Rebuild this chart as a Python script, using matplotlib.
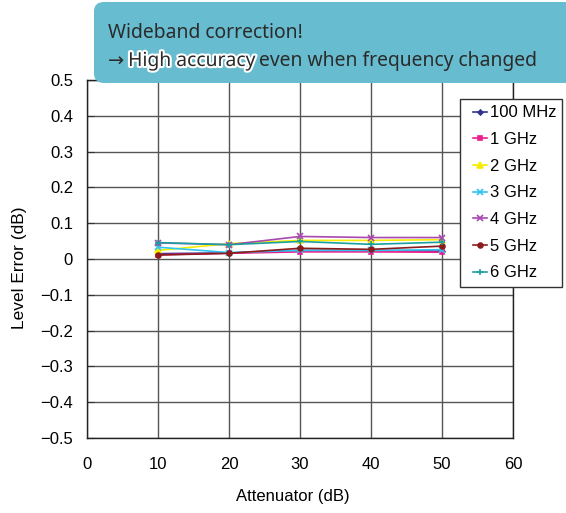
import matplotlib.pyplot as plt
import matplotlib.patheffects as pe
from matplotlib.patches import FancyBboxPatch
from matplotlib.legend_handler import HandlerLine2D

# Data
attenuator = [10, 20, 30, 40, 50]
freq_labels = ['100 MHz', '1 GHz', '2 GHz', '3 GHz', '4 GHz', '5 GHz', '6 GHz']
err_100mhz = [0.015, 0.017, 0.024, 0.024, 0.022]
err_1ghz = [0.012, 0.016, 0.020, 0.020, 0.019]
err_2ghz = [0.024, 0.043, 0.052, 0.052, 0.054]
err_3ghz = [0.033, 0.018, 0.024, 0.024, 0.026]
err_4ghz = [0.045, 0.040, 0.063, 0.060, 0.060]
err_5ghz = [0.011, 0.016, 0.030, 0.027, 0.036]
err_6ghz = [0.046, 0.040, 0.049, 0.041, 0.047]
y_ticks = [0.5, 0.4, 0.3, 0.2, 0.1, 0, -0.1, -0.2, -0.3, -0.4, -0.5]
y_tick_labels = ['0.5', '0.4', '0.3', '0.2', '0.1', '0',
                 '\u22120.1', '\u22120.2', '\u22120.3', '\u22120.4', '\u22120.5']
x_ticks = [0, 10, 20, 30, 40, 50, 60]

series = [err_100mhz, err_1ghz, err_2ghz, err_3ghz, err_4ghz, err_5ghz, err_6ghz]
colors = ['#33338f', '#ee1c8c', '#f5ec00', '#30c4f0', '#a848b0', '#8b1c1c', '#1aa0a0']
markers = ['D', 's', '^', 'x', 'x', 'o', '+']
msizes = [2.5, 3.5, 4, 4, 4, 3.5, 5]

plt.rcParams['font.family'] = ['Liberation Sans', 'DejaVu Sans']

fig = plt.figure(figsize=(5.66, 5.13), dpi=100)
ax = fig.add_axes([0.1537, 0.1462, 0.7527, 0.6978])

for vals, lab, c, m, ms in zip(series, freq_labels, colors, markers, msizes):
    ax.plot(attenuator, vals, color=c, marker=m, markersize=ms, linewidth=1.2,
            markeredgewidth=1.2, label=lab)

ax.set_xlim(0, 60)
ax.set_ylim(-0.5, 0.5)
ax.set_xticks(x_ticks)
ax.set_yticks(y_ticks)
ax.set_yticklabels(y_tick_labels)
ax.tick_params(axis='y', direction='in', length=5, labelsize=12, pad=10, color='#333333')
ax.tick_params(axis='x', length=0, labelsize=12, pad=14)
ax.grid(True, color='#555555', linewidth=1)
ax.set_axisbelow(True)
for s in ax.spines.values():
    s.set_color('#222222')
    s.set_linewidth(1)

ax.set_xlabel('Attenuator (dB)', fontsize=12)
ax.set_ylabel('Level Error (dB)', fontsize=12.5)
ax.xaxis.set_label_coords(0.4836, -0.142)
ax.yaxis.set_label_coords(-0.141, 0.476)

leg = ax.legend(loc='upper left', bbox_to_anchor=(0.8127, 0.807),
                bbox_transform=fig.transFigure, fontsize=12, frameon=True,
                fancybox=False, edgecolor='#333333', framealpha=1,
                handlelength=1.25, handletextpad=0.15, labelspacing=0.7,
                borderpad=0.38, borderaxespad=0,
                handler_map={plt.Line2D: HandlerLine2D(xpad=0.42)})
leg.get_frame().set_linewidth(1)

# callout box at the top
box = FancyBboxPatch((94 / 566, 1 - 83 / 513), 0.5, 81 / 513,
                     boxstyle='round,pad=0,rounding_size=0.018',
                     transform=fig.transFigure, facecolor='#67bccf',
                     edgecolor='none', zorder=5)
fig.patches.append(box)
box2 = FancyBboxPatch((0.5, 1 - 83 / 513), 0.6, 81 / 513,
                      boxstyle='square,pad=0', transform=fig.transFigure,
                      facecolor='#67bccf', edgecolor='none', zorder=5)
fig.patches.append(box2)

tfont = dict(family=['Noto Sans', 'DejaVu Sans'], fontsize=13.9, color='#2b2b2b', zorder=6)
fig.text(108 / 566, 1 - 38 / 513, 'Wideband correction!', va='baseline', **tfont)
t1 = fig.text(108 / 566, 1 - 66 / 513, '\u2192 ', va='baseline', **tfont)
t2 = fig.text(0, 0, 'High accuracy', va='baseline', **tfont)
t2.set_path_effects([pe.withStroke(linewidth=3, foreground='white')])
t3 = fig.text(0, 0, ' even when frequency changed', va='baseline', **tfont)

fig.canvas.draw()
r = fig.canvas.get_renderer()
inv = fig.transFigure.inverted()
e1 = t1.get_window_extent(r)
t2.set_x(inv.transform((e1.x1 - 1, 0))[0])
t2.set_y(1 - 66 / 513)
e2 = t2.get_window_extent(r)
t3.set_x(inv.transform((e2.x1 - 1, 0))[0])
t3.set_y(1 - 66 / 513)

fig.savefig('out.png', dpi=100)
